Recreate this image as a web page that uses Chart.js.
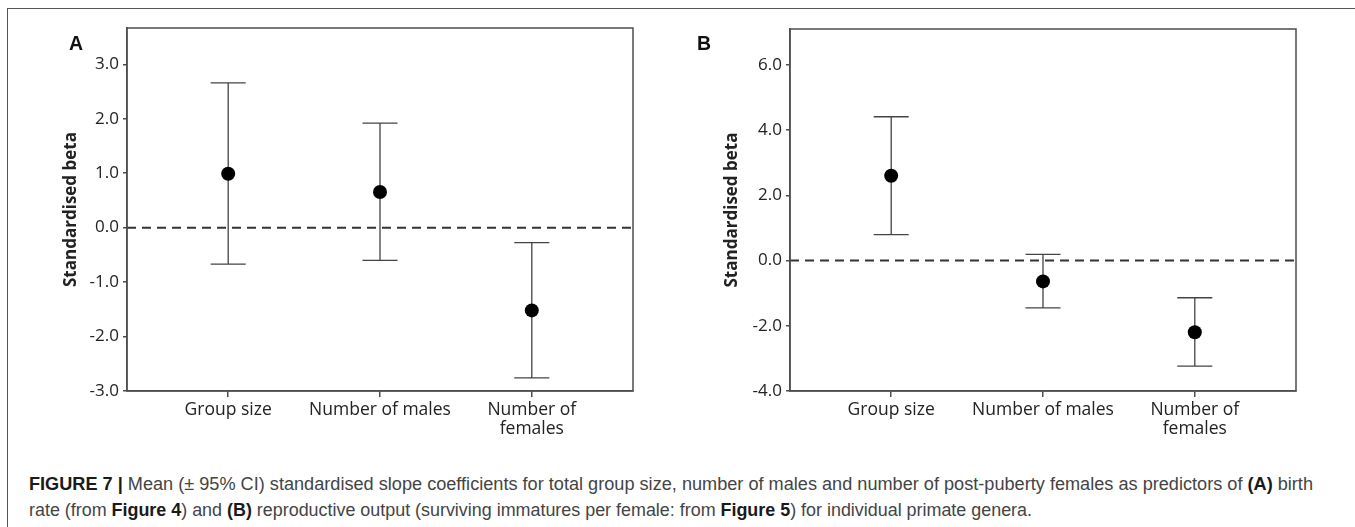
<!DOCTYPE html>
<html>
<head>
<meta charset="utf-8">
<script src="https://cdn.jsdelivr.net/npm/chart.js@4.4.1/dist/chart.umd.min.js"></script>
<style>
  html, body { margin: 0; padding: 0; background: #fff; }
  body { width: 1355px; height: 527px; position: relative; overflow: hidden; }
  .frame { position: absolute; left: 6.5px; top: 7.5px; width: 1360px; height: 530px;
           border-top: 1.5px solid #555; border-left: 1.5px solid #555; }
  .panel { position: absolute; top: 0; height: 450px; }
  .tag { position: absolute; top: 33.5px; font: bold 19.5px 'Liberation Sans', Arial, sans-serif;
         line-height: 1; color: #111; }
  .cap { position: absolute; left: 29px; font: 17.5px 'Liberation Sans', Arial, sans-serif;
         line-height: 26px; color: #444; white-space: nowrap; transform-origin: 0 50%; }
  .cap b { color: #1a1a1a; }
</style>
</head>
<body>
<div class="frame"></div>
<div class="panel" style="left:0;width:680px"><canvas id="chartA"></canvas></div>
<div class="panel" style="left:680px;width:675px"><canvas id="chartB"></canvas></div>
<div class="tag" style="left:69px">A</div>
<div class="tag" style="left:697px">B</div>
<div class="cap" id="cap1" style="top:471px"><b>FIGURE 7 |</b> Mean (± 95% CI) standardised slope coefficients for total group size, number of males and number of post-puberty females as predictors of <b>(A)</b> birth</div>
<div class="cap" id="cap2" style="top:497px">rate (from <b>Figure 4</b>) and <b>(B)</b> reproductive output (surviving immatures per female: from <b>Figure 5</b>) for individual primate genera.</div>

<script>
/* ── Datos ── */
const X_LABELS = ['Group size', 'Number of males', ['Number of', 'females']];
const Y_TITLE  = 'Standardised beta';

const A_MEAN = [0.99, 0.655, -1.52];
const A_LOW  = [-0.67, -0.60, -2.76];
const A_HIGH = [2.66, 1.92, -0.275];
const A_TICKS = [-3, -2, -1, 0, 1, 2, 3];

const B_MEAN = [2.6, -0.64, -2.2];
const B_LOW  = [0.795, -1.45, -3.24];
const B_HIGH = [4.41, 0.19, -1.14];
const B_TICKS = [-4, -2, 0, 2, 4, 6];

const AXIS = '#4d4d4d';
const INK  = '#222';
const FONT = "'Open Sans', 'DejaVu Sans', sans-serif";
const CAP  = 17.5;

/* ── Barras de error, línea cero, marco y título del eje ── */
const errorBars = {
  id: 'errorBars',
  beforeDatasetsDraw(chart) {
    const { ctx, chartArea: a, scales: { x, y } } = chart;
    const ds = chart.data.datasets[0];
    ctx.save();

    // línea discontinua en 0
    const y0 = y.getPixelForValue(0);
    ctx.strokeStyle = '#333';
    ctx.lineWidth = 2;
    ctx.setLineDash([9, 6]);
    ctx.beginPath();
    ctx.moveTo(a.left, y0);
    ctx.lineTo(a.right, y0);
    ctx.stroke();
    ctx.setLineDash([]);

    // intervalos 95%
    ctx.strokeStyle = '#444';
    ctx.lineWidth = 1.3;
    ds.data.forEach((p, i) => {
      const px = x.getPixelForValue(p.x);
      const lo = y.getPixelForValue(ds.low[i]);
      const hi = y.getPixelForValue(ds.high[i]);
      ctx.beginPath();
      ctx.moveTo(px, lo); ctx.lineTo(px, hi);
      ctx.moveTo(px - CAP, lo); ctx.lineTo(px + CAP, lo);
      ctx.moveTo(px - CAP, hi); ctx.lineTo(px + CAP, hi);
      ctx.stroke();
    });
    ctx.restore();
  },
  afterDraw(chart, args, opts) {
    const { ctx, chartArea: a } = chart;
    ctx.save();
    ctx.strokeStyle = AXIS;
    ctx.lineWidth = 1.5;
    ctx.strokeRect(a.left, a.top, a.right - a.left, a.bottom - a.top);

    ctx.translate(a.left - opts.titleGap, (a.top + a.bottom) / 2);
    ctx.rotate(-Math.PI / 2);
    ctx.font = 'bold 17px ' + FONT;
    ctx.fillStyle = INK;
    ctx.textAlign = 'center';
    ctx.textBaseline = 'middle';
    ctx.fillText(Y_TITLE, 0, 0);
    ctx.restore();
  },
};

/* ── Panel ── */
function makePanel(id, mean, low, high, yMin, yMax, yTicks, axisW, titleGap, pad) {
  new Chart(document.getElementById(id), {
    type: 'scatter',
    data: {
      datasets: [{
        data: mean.map((m, i) => ({ x: i, y: m })),
        low: low,
        high: high,
        backgroundColor: '#000',
        borderWidth: 0,
        pointRadius: 7,
        pointHoverRadius: 7,
      }],
    },
    options: {
      responsive: true,
      maintainAspectRatio: false,
      animation: false,
      layout: { padding: pad },
      plugins: {
        legend: { display: false },
        tooltip: { enabled: false },
        errorBars: { titleGap: titleGap },
      },
      scales: {
        x: {
          type: 'linear',
          min: -2 / 3,
          max: 8 / 3,
          afterBuildTicks: s => { s.ticks = X_LABELS.map((_, i) => ({ value: i })); },
          afterFit: s => { s.height = 59; },
          ticks: {
            callback: v => X_LABELS[v],
            font: { family: FONT, size: 17.5, lineHeight: 1.12 },
            color: INK,
            padding: 3,
            maxRotation: 0,
            autoSkip: false,
          },
          grid: { drawOnChartArea: false, tickLength: 6, color: AXIS, lineWidth: 1.5 },
          border: { color: AXIS, width: 1.5 },
        },
        y: {
          min: yMin,
          max: yMax,
          afterBuildTicks: s => { s.ticks = yTicks.map(v => ({ value: v })); },
          afterFit: s => { s.width = axisW; },
          ticks: {
            callback: v => v.toFixed(1),
            font: { family: FONT, size: 17 },
            color: INK,
            padding: 4,
          },
          grid: { drawOnChartArea: false, tickLength: 4, color: AXIS, lineWidth: 1.5 },
          border: { color: AXIS, width: 1.5 },
        },
      },
    },
    plugins: [errorBars],
  });
}

/* ── Pie de figura ── */
function fitCaption(id, target) {
  const el = document.getElementById(id);
  const w = el.getBoundingClientRect().width;
  el.style.transform = 'scaleX(' + (target / w) + ')';
}

/* ── Init ── */
makePanel('chartA', A_MEAN, A_LOW, A_HIGH, -3, 3.666, A_TICKS, 127, 56.3,
  { left: 0, top: 28, right: 47, bottom: 0 });
makePanel('chartB', B_MEAN, B_LOW, B_HIGH, -4, 7.1, B_TICKS, 110, 57.5,
  { left: 0, top: 29, right: 59, bottom: 0 });
fitCaption('cap1', 1284);
fitCaption('cap2', 1003);
</script>
</body>
</html>
